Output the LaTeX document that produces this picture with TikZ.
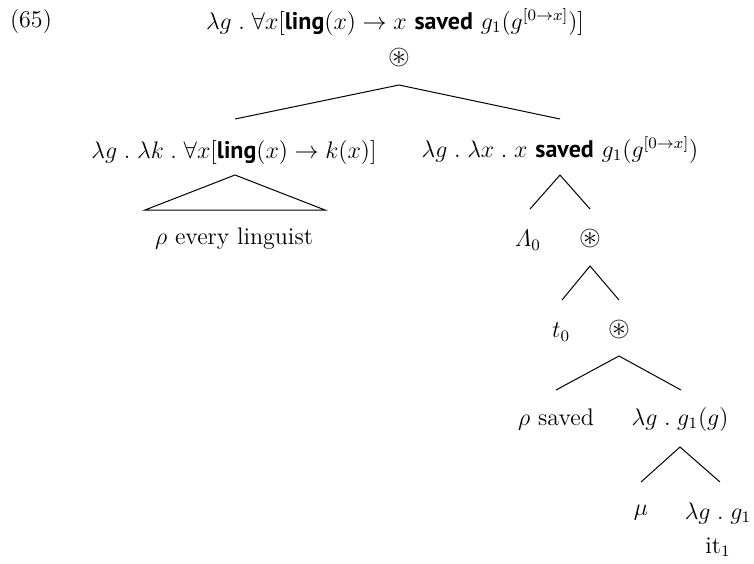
\documentclass[tikz,border=0pt]{standalone}
\usepackage{amsmath,amssymb}
\usepackage{fontspec}
\newfontfamily\sansb{PT Sans}
\newcommand{\cst}[1]{\text{\sansb\bfseries #1}}
\begin{document}
\begin{tikzpicture}[x=0.5pt,y=-0.5pt,
  lbl/.style={inner sep=0pt, anchor=center, font=\fontsize{12}{14}\selectfont},
  op/.style={lbl, font=\fontsize{14}{16}\selectfont},
  edge/.style={line width=0.5pt}]
\useasboundingbox (0,0) rectangle (754,563);
% labels
\node[lbl] (ex) at (31,22) {(65)};
\node[lbl] (root) at (395,22) {$\lambda g\;.\;\forall x[\cst{ling}(x)\rightarrow x\ \cst{saved}\ g_1(g^{[0\rightarrow x]})]$};
\node[op] (star1) at (399,57) {$\circledast$};
\node[lbl] (lchild) at (234,152) {$\lambda g\;.\;\lambda k\;.\;\forall x[\cst{ling}(x)\rightarrow k(x)]$};
\node[lbl] (rchild) at (560,150) {$\lambda g\;.\;\lambda x\;.\;x\ \cst{saved}\ g_1(g^{[0\rightarrow x]})$};
\node[lbl] (every) at (234,239) {$\rho$ every linguist};
\node[lbl] (Lam) at (528,240) {$\varLambda_0$};
\node[op] (star2) at (590,238) {$\circledast$};
\node[lbl] (t0) at (561,332) {$t_0$};
\node[op] (star3) at (619,329) {$\circledast$};
\node[lbl] (saved) at (556,419) {$\rho$ saved};
\node[lbl] (lgg) at (680,419) {$\lambda g\;.\;g_1(g)$};
\node[lbl] (mu) at (641,513) {$\mu$};
\node[lbl] (lg1) at (718,513) {$\lambda g\;.\;g_1$};
\node[lbl] (it) at (718,547) {it$_1$};
% connector end points
\coordinate (a1) at (399,85);
\coordinate (l1) at (235,119);
\coordinate (r1) at (560,119);
\coordinate (a2) at (235,175);
\coordinate (l2) at (145,210);
\coordinate (r2) at (325,210);
\coordinate (a3) at (560,175);
\coordinate (l3) at (530,209);
\coordinate (r3) at (590,209);
\coordinate (a4) at (590,266);
\coordinate (l4) at (562,300);
\coordinate (r4) at (619,300);
\coordinate (a5) at (619,356);
\coordinate (l5) at (556,390);
\coordinate (r5) at (681,390);
\coordinate (a6) at (680,447);
\coordinate (l6) at (641,482);
\coordinate (r6) at (720,482);
% connectors
\draw[edge] (l1) -- (a1) -- (r1);
\draw[edge] (a2) -- (l2) -- (r2) -- cycle;
\draw[edge] (l3) -- (a3) -- (r3);
\draw[edge] (l4) -- (a4) -- (r4);
\draw[edge] (l5) -- (a5) -- (r5);
\draw[edge] (l6) -- (a6) -- (r6);
\end{tikzpicture}
\end{document}
